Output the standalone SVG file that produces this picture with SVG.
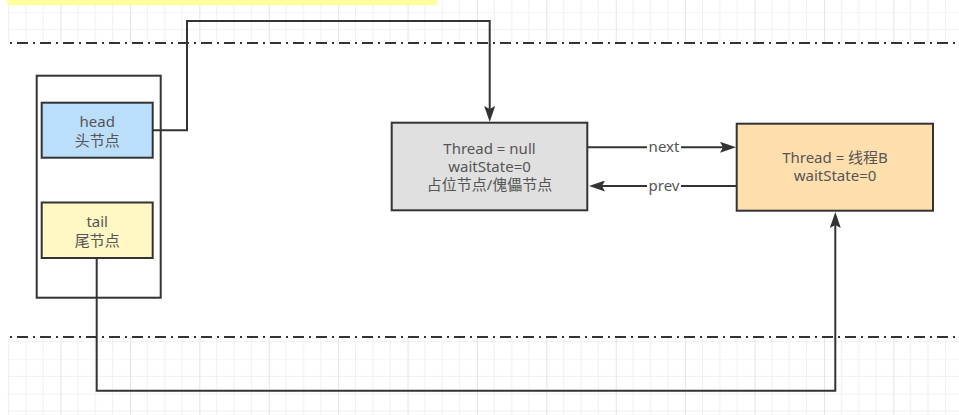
<svg xmlns="http://www.w3.org/2000/svg" width="959" height="415" viewBox="0 0 959 415">
  <style>
    .box { stroke: #333333; stroke-width: 2; }
    .txt { font-family: "Noto Sans", "Noto Sans CJK SC", sans-serif; font-size: 15px; fill: #555555; text-anchor: middle; }
    .conn { fill: none; stroke: #333333; stroke-width: 2; }
    .sep { fill: none; stroke: #333333; stroke-width: 2; stroke-dasharray: 2 5 11 5; }
  </style>
  <defs>
    <pattern id="grid" patternUnits="userSpaceOnUse" x="60.55" y="12" width="69.4" height="69.4">
      <path d="M0,0 V69.4 M17.35,0 V69.4 M34.7,0 V69.4 M52.05,0 V69.4 M0,0 H69.4 M0,17.35 H69.4 M0,34.7 H69.4 M0,52.05 H69.4" stroke="#f0f0f0" stroke-width="1" fill="none"/>
      <path d="M0.5,0 V69.4" stroke="#e4e4e4" stroke-width="1" fill="none"/>
    </pattern>
    <marker id="arrow" viewBox="0 0 16 11" refX="3" refY="5.5" markerWidth="16" markerHeight="11" markerUnits="userSpaceOnUse" orient="auto">
      <path d="M0,0 L16,5.5 L0,11 L3,5.5 z" fill="#333333"/>
    </marker>
  </defs>

  <rect x="0" y="0" width="959" height="415" fill="#ffffff"/>
  <rect x="7" y="0" width="952" height="415" fill="url(#grid)"/>
  <rect x="7" y="0" width="430" height="5.3" fill="#ffff9f"/>
  <rect x="0" y="43" width="959" height="294" fill="#ffffff"/>
  <path class="sep" d="M10,43 H959"/>
  <path class="sep" d="M10,337 H959"/>

  <g id="container">
    <rect class="box" x="36.7" y="75.7" width="124" height="222" fill="none"/>
  </g>
  <g id="head">
    <rect class="box" x="41.7" y="102.7" width="111" height="55" fill="#bbdefb"/>
    <text class="txt" x="97.2" y="127">head</text>
    <text class="txt" x="97.2" y="146">头节点</text>
  </g>
  <g id="tail">
    <rect class="box" x="41.7" y="202.5" width="111" height="55.5" fill="#fff8c4"/>
    <text class="txt" x="97.2" y="227">tail</text>
    <text class="txt" x="97.2" y="246">尾节点</text>
  </g>
  <g id="dummy">
    <rect class="box" x="391.7" y="122.7" width="195.6" height="87.6" fill="#e0e0e0"/>
    <text class="txt" x="489.5" y="154">Thread = null</text>
    <text class="txt" x="489.5" y="172">waitState=0</text>
    <text class="txt" x="489.5" y="190">占位节点/傀儡节点</text>
  </g>
  <g id="threadB">
    <rect class="box" x="736.7" y="123.7" width="196.3" height="87" fill="#ffdfad"/>
    <text class="txt" x="835" y="163">Thread = 线程B</text>
    <text class="txt" x="835" y="181">waitState=0</text>
  </g>

  <g id="connectors">
    <path class="conn" d="M152.7,130.3 H187 V21 H489.7 V109" marker-end="url(#arrow)"/>
    <path class="conn" d="M96.7,258 V390.7 H835.3 V225" marker-end="url(#arrow)"/>
    <path class="conn" d="M587.3,147.3 H723" marker-end="url(#arrow)"/>
    <path class="conn" d="M736.7,186 H602" marker-end="url(#arrow)"/>
    <rect x="647" y="140" width="34" height="15" fill="#ffffff"/>
    <text class="txt" x="664" y="152">next</text>
    <rect x="647" y="179" width="34" height="15" fill="#ffffff"/>
    <text class="txt" x="664" y="191">prev</text>
  </g>
</svg>
